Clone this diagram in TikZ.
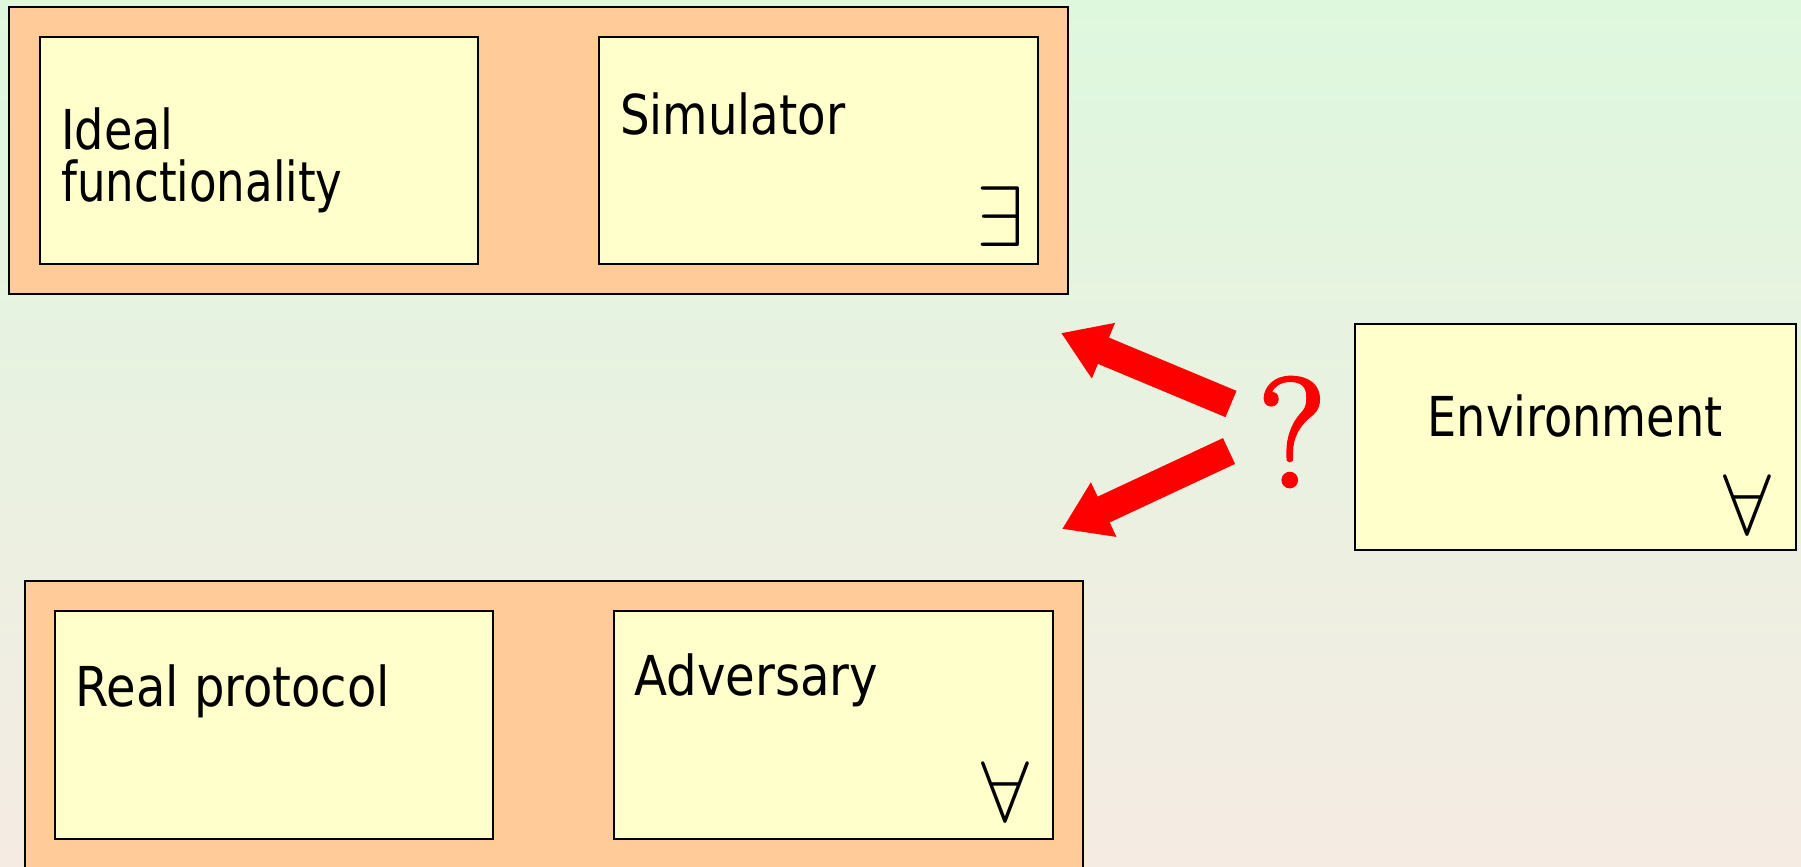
\documentclass[tikz,border=0pt]{standalone}
\usepackage{fontspec}
\setmainfont{DejaVu Sans}[FakeStretch=0.84]
\newfontfamily\qfont{Latin Modern Roman}[FakeBold=2.5]
\usetikzlibrary{arrows.meta}
\definecolor{bgtop}{HTML}{DEF8DE}
\definecolor{bgbot}{HTML}{F5EBE3}
\definecolor{framefill}{HTML}{FFCC99}
\definecolor{panelfill}{HTML}{FFFFCC}
\begin{document}
\begin{tikzpicture}[x=1pt,y=-1pt,
  group/.style={draw=black, line width=1.6pt, fill=framefill, anchor=north west, inner sep=0, outer sep=0},
  party/.style={draw=black, line width=1.4pt, fill=panelfill, anchor=north west, inner sep=0, outer sep=0},
  lbl/.style={font=\fontsize{55}{52}\selectfont, anchor=base west, inner sep=0, align=left},
  quant/.style={inner sep=0, anchor=south west},
  bigarrow/.style={draw=red, line width=28.5pt, -{Triangle[width=57pt,length=46pt]}}
]
% background
\shade[top color=bgtop, bottom color=bgbot] (0,0) rectangle (1801,867);
\useasboundingbox (0,0) rectangle (1801,867);

% ideal world
\node[group, minimum width=1059pt, minimum height=287pt] (idealworld) at (9,7) {};
\node[party, minimum width=438pt, minimum height=227pt] (ideal) at (40,37) {};
\node[party, minimum width=439pt, minimum height=227pt] (sim) at (599,37) {};
\node[lbl] (idealtxt) at (61,201) {Ideal\\\scalebox{0.976}[1]{functionality}};
\node[lbl] (simtxt) at (620,134) {\scalebox{1.01}[1]{Simulator}};
\node[quant] (exists) at (976,247) {\scalebox{8.6}{$\exists$}};

% real world
\node[group, minimum width=1058pt, minimum height=320pt] (realworld) at (25,581) {};
\node[party, minimum width=438pt, minimum height=228pt] (real) at (55,611) {};
\node[party, minimum width=439pt, minimum height=228pt] (adv) at (614,611) {};
\node[lbl] (realtxt) at (75,706) {\scalebox{1.04}[1]{Real protocol}};
\node[lbl] (advtxt) at (634,695) {\scalebox{1.045}[1]{Adversary}};
\node[quant] (advall) at (981,822) {\scalebox{8.6}{$\forall$}};

% environment
\node[party, minimum width=441pt, minimum height=226pt] (env) at (1355,324) {};
\node[lbl, anchor=base] (envtxt) at (1575,436) {Environment};
\node[quant] (envall) at (1723,535) {\scalebox{8.6}{$\forall$}};

% the question
\node[text=red, inner sep=0, font=\qfont\fontsize{155}{155}\selectfont] (qmark) at (1292,432) {?};
\coordinate (upTail) at (1231,404);
\coordinate (upTip) at (1061,333);
\coordinate (downTail) at (1229,451);
\coordinate (downTip) at (1062,529);
\draw[bigarrow] (upTail) -- (upTip);
\draw[bigarrow] (downTail) -- (downTip);
\end{tikzpicture}
\end{document}
